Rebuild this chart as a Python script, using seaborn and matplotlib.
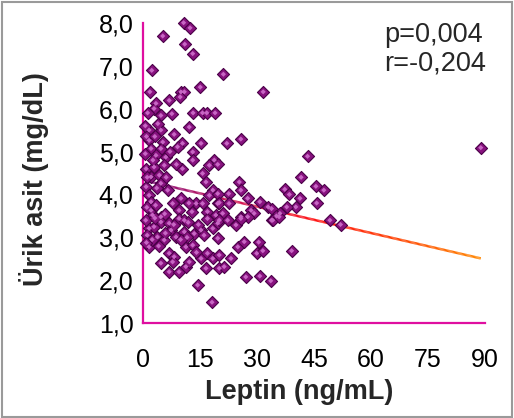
import numpy as np
import pandas as pd
import matplotlib
matplotlib.use("Agg")
import matplotlib.pyplot as plt
from matplotlib.collections import LineCollection
from matplotlib.colors import LinearSegmentedColormap, Normalize
from matplotlib.patches import Rectangle
from matplotlib.ticker import FuncFormatter
import seaborn as sns

# Serum leptin (ng/mL) and uric acid (mg/dL) per subject
leptin = [
    10.6, 12.3, 5.1, 10.9, 13.0, 2.2, 21.1, 1.7, 15.0, 9.9, 10.8, 9.7, 31.6, 6.8,
    3.3, 2.8, 1.1, 7.5, 4.6, 13.1, 15.6, 16.7, 18.9,
    12.1, 1.5, 4.6, 8.1, 1.5, 5.1, 10.3, 9.0, 15.2, 2.0, 4.6, 13.0, 3.3, 5.9,
    18.7, 17.4, 13.0, 0.7, 2.8, 5.5, 10.3, 15.6, 2.0, 4.2, 16.5, 0.7, 4.6, 6.4,
    18.3, 17.4, 1.5, 2.0, 9.9, 7.7, 13.9, 15.6, 19.6, 2.0, 2.4, 9.4, 16.9, 19.1,
    4.6, 9.4,
    22.0, 25.7, 19.6, 43.3, 41.6, 45.5, 47.6, 37.3, 38.5, 41.3, 45.7, 30.7, 40.2,
    37.8, 32.9, 33.8, 36.0, 35.1, 33.8, 49.2, 52.0, 30.4, 29.9, 31.5, 39.1, 30.7,
    33.6, 25.3, 25.7, 27.5, 22.5, 19.6, 20.0, 22.6, 28.4, 29.2, 20.9, 25.7, 27.5,
    1.5, 2.8, 4.6, 6.8, 10.8, 3.7, 7.3, 8.6, 10.8, 13.4, 15.2, 18.3, 19.6, 16.9,
    1.5, 5.5, 11.2, 13.0, 6.8, 8.1, 7.7, 15.2, 16.9, 18.3, 4.6, 6.8, 9.4, 11.2,
    12.1, 16.5, 20.0, 14.3, 18.1,
    20.0, 22.2, 24.4, 25.7, 34.1, 35.8, 19.6, 24.9, 26.6, 20.0, 23.1, 21.3, 27.0,
    89.0,
    0.8, 3.0, 0.5, 2.5, 1.0, 3.5, 0.9, 3.2, 0.6, 3.0, 1.0, 2.3, 4.0, 0.8, 5.8,
    8.0, 11.8, 12.8, 14.5, 11.5, 9.8, 14.0, 5.6, 6.0, 3.8, 0.5, 12.0, 8.7, 7.0,
    16.0,
]
urik_asit = [
    8.00, 7.88, 7.69, 7.50, 7.28, 6.89, 6.80, 6.39, 6.50, 6.39, 6.39, 6.27, 6.39, 6.19,
    6.12, 6.00, 5.90, 5.88, 5.84, 5.90, 5.90, 5.90, 5.90,
    5.57, 5.50, 5.50, 5.40, 5.26, 5.22, 5.19, 5.11, 5.19, 5.07, 5.07, 4.99, 4.91, 4.87,
    4.80, 4.68, 4.80, 4.60, 4.64, 4.68, 4.60, 4.49, 4.41, 4.45, 4.29, 4.18, 4.26, 4.10,
    4.10, 3.98, 3.98, 3.83, 3.91, 3.79, 3.79, 3.79, 3.79, 3.63, 3.52, 3.63, 3.60, 3.52,
    3.48, 3.44,
    5.19, 5.29, 4.70, 4.89, 4.40, 4.19, 4.10, 4.12, 4.00, 3.91, 3.80, 3.83, 3.71,
    3.71, 3.71, 3.67, 3.56, 3.50, 3.40, 3.40, 3.30, 2.89, 2.63, 2.69, 2.69, 2.10,
    1.99, 4.29, 4.10, 3.91, 4.02, 4.02, 3.81, 3.79, 3.63, 3.56, 3.56, 3.48, 3.48,
    3.21, 3.25, 3.36, 3.33, 3.40, 3.01, 3.17, 3.01, 3.13, 3.09, 3.17, 3.21, 3.33, 3.44,
    2.78, 2.94, 2.78, 2.82, 2.63, 2.55, 2.43, 2.51, 2.63, 2.51, 2.40, 2.20, 2.20, 2.32,
    2.43, 2.28, 2.28, 1.89, 1.49,
    3.40, 3.40, 3.29, 3.44, 3.40, 3.48, 2.98, 2.78, 2.90, 2.59, 2.51, 2.32, 2.08,
    5.09,
    5.35, 5.35, 4.95, 4.80, 4.40, 4.15, 3.70, 3.75, 3.40, 3.45, 3.05, 2.95, 2.80, 2.88, 3.10,
    3.30, 3.35, 3.60, 3.30, 3.00, 2.95, 2.65, 3.55, 4.40, 5.65, 5.60, 3.80, 4.70, 5.00,
    3.05,
]

# Linear trend line (uric acid vs leptin)
trend_intercept = 4.33
trend_slope = -0.02044
trend_x = [0.6, 89.0]

x_ticks = [0, 15, 30, 45, 60, 75, 90]
y_ticks = [1, 2, 3, 4, 5, 6, 7, 8]
stats_lines = ["p=0,004", "r=-0,204"]
x_label = "Leptin (ng/mL)"
y_label = "Ürik asit (mg/dL)"

axis_color = "#DF0FA0"

sns.set_style("white")
plt.rcParams["font.family"] = ["Liberation Sans", "DejaVu Sans"]

df = pd.DataFrame({"leptin": leptin, "urik": urik_asit})

fig = plt.figure(figsize=(5.14, 4.18), dpi=100)
ax = fig.add_axes([0.279, 0.2266, 0.6637, 0.7191])

# Trend line with a purple-to-orange colour ramp
tx = np.linspace(trend_x[0], trend_x[1], 300)
ty = trend_intercept + trend_slope * tx
pts = np.column_stack([tx, ty]).reshape(-1, 1, 2)
segs = np.concatenate([pts[:-1], pts[1:]], axis=1)
ramp = LinearSegmentedColormap.from_list(
    "ramp", [(0.0, "#7F0F7F"), (0.3, "#D8104A"), (0.5, "#FF0F0F"),
             (0.72, "#FF3A00"), (1.0, "#FF8A00")])
lc = LineCollection(segs, cmap=ramp, norm=Normalize(0, 90), linewidth=1.8, zorder=3)
lc.set_array(0.5 * (tx[:-1] + tx[1:]))
ax.add_collection(lc)

# Bevelled diamond markers: dark body plus a lighter centre
sns.scatterplot(data=df, x="leptin", y="urik", marker="D", s=38,
                color="#88127F", edgecolor="#4A0048", linewidth=0.8,
                ax=ax, zorder=4, legend=False, clip_on=False)
sns.scatterplot(data=df, x="leptin", y="urik", marker="D", s=7,
                color="#C766C4", edgecolor="none", linewidth=0,
                ax=ax, zorder=5, legend=False, clip_on=False)

ax.set_xlim(0, 90)
ax.set_ylim(1, 8)
ax.set_xticks(x_ticks)
ax.set_yticks(y_ticks)
ax.yaxis.set_major_formatter(FuncFormatter(lambda v, p: f"{v:.1f}".replace(".", ",")))
ax.xaxis.set_major_formatter(FuncFormatter(lambda v, p: f"{v:.0f}"))

for side in ("top", "right"):
    ax.spines[side].set_visible(False)
for side in ("left", "bottom"):
    ax.spines[side].set_color(axis_color)
    ax.spines[side].set_linewidth(1.6)
ax.tick_params(axis="both", which="major", direction="out", length=5, width=1.6,
               color=axis_color, labelsize=18, labelcolor="black")
ax.tick_params(axis="x", pad=13)
ax.tick_params(axis="y", pad=2)
ax.grid(False)

ax.set_xlabel(x_label, fontsize=19.5, fontweight="bold")
ax.set_ylabel(y_label, fontsize=19.5, fontweight="bold")
ax.xaxis.set_label_coords(0.456, -0.185)
ax.yaxis.set_label_coords(-0.278, 0.48)

fig.text(384 / 514, 1 - 22 / 418, "\n".join(stats_lines), fontsize=19.5,
         ha="left", va="top", linespacing=1.1)

fig.patches.append(Rectangle((0.003, 0.003), 0.993, 0.993, transform=fig.transFigure,
                             fill=False, edgecolor="#9A9A9A", linewidth=1.5))

fig.savefig("out.png", dpi=100)
